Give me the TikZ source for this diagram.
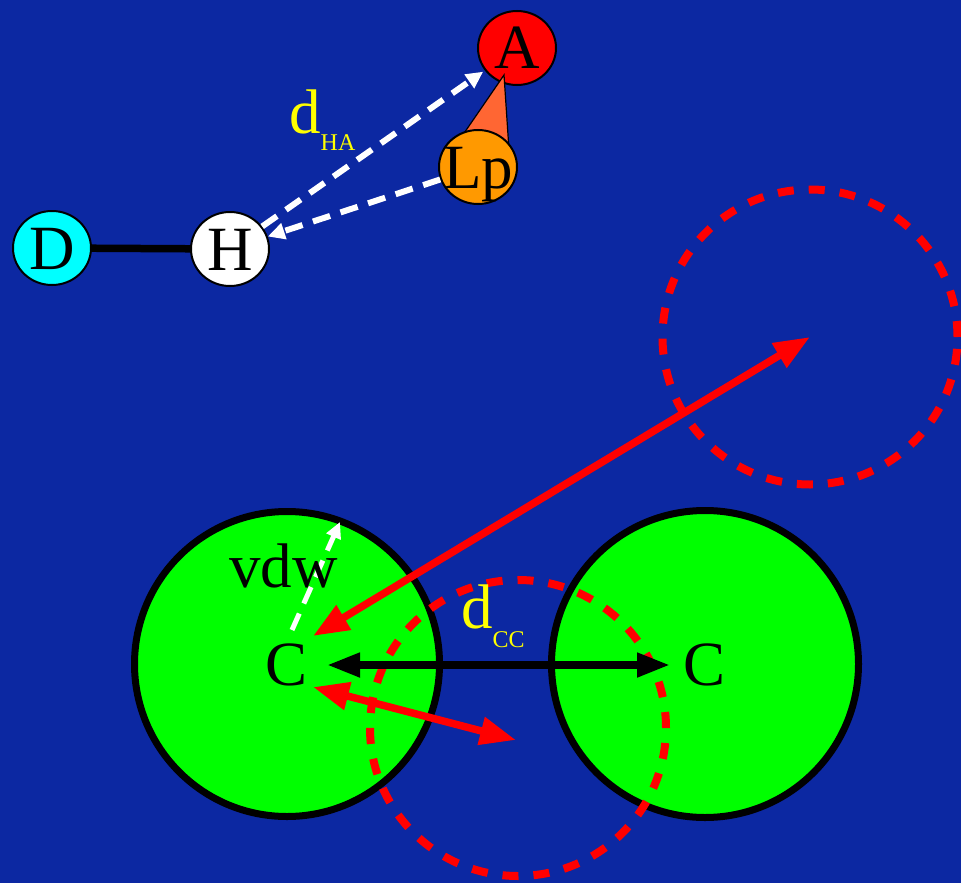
\documentclass[tikz,border=0pt]{standalone}
\usepackage{fontspec}
\setmainfont{Liberation Serif}
\usetikzlibrary{arrows.meta,shapes.geometric}
\definecolor{bg}{RGB}{12,40,162}
\definecolor{lporange}{RGB}{255,153,0}
\definecolor{lobe}{RGB}{255,102,51}
\definecolor{dcyan}{RGB}{0,255,255}
\definecolor{pgreen}{RGB}{0,255,0}
\definecolor{pred}{RGB}{255,0,0}
\definecolor{pyellow}{RGB}{255,255,0}
\newcommand\bigfont{\fontsize{63}{63}\selectfont}
\newcommand\subfont{\fontsize{24}{24}\selectfont}
\begin{document}
\begin{tikzpicture}[x=1pt,y=-1pt,
  atom/.style={ellipse, draw=black, line width=2pt, minimum width=78pt, minimum height=74pt, inner sep=0pt},
  atomtext/.style={font=\bigfont, text=black, inner sep=0pt, text height=42pt, text depth=0pt},
  ball/.style={circle, draw=black, fill=pgreen, line width=7pt, inner sep=0pt, font=\bigfont, text height=42pt, text depth=0pt},
  ring/.style={circle, draw=pred, line width=8pt, dash pattern=on 16pt off 15pt, inner sep=0pt},
  whitedash/.style={draw=white, line width=6pt, dash pattern=on 18pt off 11pt, -{Triangle[length=17pt,width=16pt]}},
  redarrow/.style={draw=pred, line width=7.5pt, {Triangle[length=36pt,width=27pt]}-{Triangle[length=36pt,width=27pt]}},
  blackarrow/.style={draw=black, line width=7.5pt, {Triangle[length=33pt,width=23pt]}-{Triangle[length=33pt,width=23pt]}},
  lbl/.style={font=\bigfont, inner sep=0pt, anchor=base west}]
\fill[bg] (0,0) rectangle (961,883);
\useasboundingbox (0,0) rectangle (961,883);

% top: donor, hydrogen, acceptor, lone pair
\node[atom, fill=pred, label={[atomtext]center:A}] (A) at (517,48) {};
\filldraw[fill=lobe, draw=black, line width=1.2pt] (504,75) -- (458,142) -- (509,150) -- cycle;
\node[atom, fill=lporange, label={[atomtext]center:Lp}] (Lp) at (478,167) {};
\node[atom, fill=white, label={[atomtext]center:H}] (H) at (230,249) {};
\node[atom, fill=dcyan, label={[atomtext]center:D}] (D) at (52,248) {};
\draw[line width=7.5pt] (D) -- (H);
\draw[whitedash, shorten >=2pt] (H) -- (A);
\draw[whitedash] (Lp) -- (H);
\node[lbl, text=pyellow] (dHA) at (289,133) {d\raisebox{-17pt}{\subfont HA}};

% bottom: carbon spheres
\node[ball, minimum size=305pt] (C1) at (287,664) {C};
\node[ball, minimum size=307pt] (C2) at (705,664) {C};
\node[ring, minimum size=295pt] (R1) at (810,337) {};
\node[ring, minimum size=296pt] (R2) at (518,728) {};

\coordinate (p1) at (313,636);
\coordinate (p2) at (313,687);
\coordinate (p3) at (516,740);
\coordinate (b1) at (327,665);
\coordinate (b2) at (670,665);
\coordinate (v0) at (292,630);
\coordinate (v1) at (340,522);

\draw[blackarrow] (b1) -- (b2);
\draw[redarrow] (p1) -- (R1.center);
\draw[redarrow] (p2) -- (p3);
\draw[whitedash, line width=5pt, -{Triangle[length=16pt,width=15pt]}] (v0) -- (v1);

\node[lbl, text=black] (vdw) at (229,587) {vdw};
\node[lbl, text=pyellow] (dCC) at (461,628) {d\raisebox{-19pt}{\subfont CC}};
\end{tikzpicture}
\end{document}
